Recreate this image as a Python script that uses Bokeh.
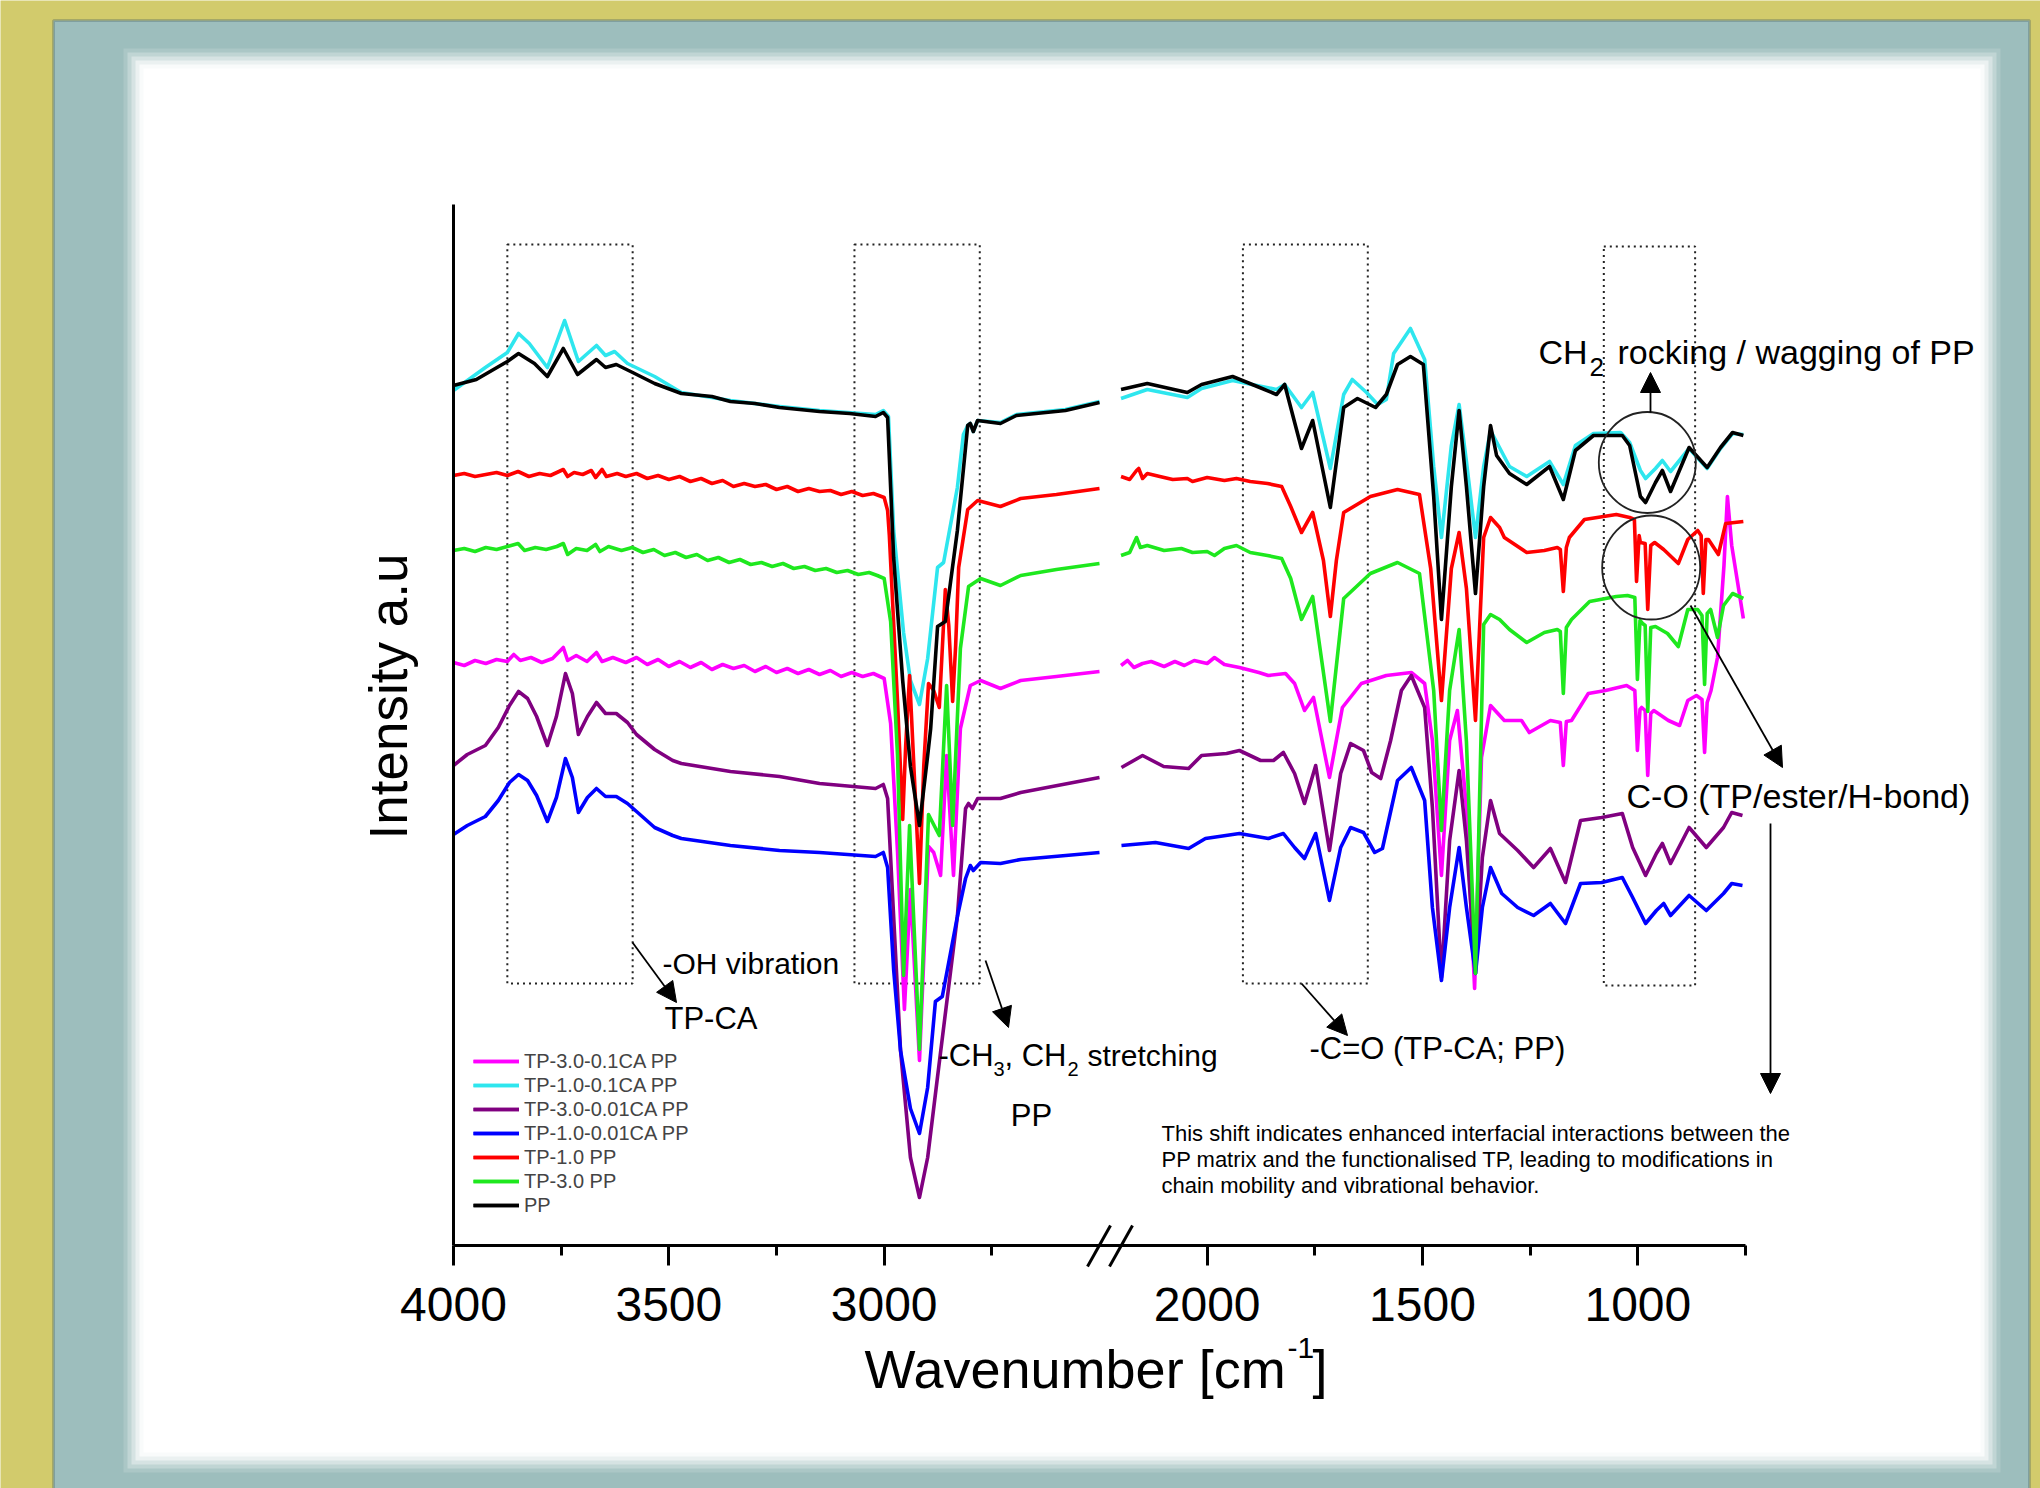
import numpy as np
from bokeh.plotting import figure
from bokeh.models import (Range1d, FixedTicker, Label, Arrow, NormalHead,
                          BoxAnnotation, Legend, LegendItem)
from bokeh.embed import file_html
from bokeh.resources import INLINE

FONT = "Liberation Sans"

# ---------------- axis definition (broken wavenumber axis) ----------------
BREAK_HI = 2500          # left panel: 4000 -> 2500
BREAK_LO = 2200          # right panel: 2200 -> 750
GAP = 50
TICK_LABELS = [4000, 3500, 3000, 2000, 1500, 1000]
MINOR_TICKS = [3750, 3250, 2750, 1750, 1250, 750]

# ---------------- data: (wavenumber cm-1, intensity a.u.) ----------------
PP_HIGH = [(4000, 86.0), (3947, 86.6), (3875, 88.4), (3849, 89.2), (3812, 88.2), (3782, 86.9),
           (3745, 89.7), (3712, 87.1), (3668, 88.6), (3647, 87.8), (3622, 88.1), (3584, 87.3),
           (3533, 86.2), (3471, 85.2), (3400, 84.9), (3357, 84.4), (3300, 84.2), (3243, 83.8),
           (3150, 83.4), (3080, 83.2), (3020, 82.9), (3002, 83.3), (2992, 82.8), (2985, 75.8),
           (2978, 68.8), (2957, 56.5), (2939, 47.9), (2918, 42.0), (2899, 49.0), (2892, 51.7),
           (2876, 61.9), (2858, 62.4), (2830, 71.5), (2806, 82.0), (2800, 82.2), (2793, 81.4),
           (2783, 82.5), (2730, 82.2), (2693, 83.0), (2579, 83.5), (2500, 84.3)]
PP_LOW = [(2200, 85.6), (2139, 86.2), (2046, 85.3), (2013, 86.1), (1941, 86.9), (1878, 85.8),
          (1839, 85.1), (1820, 86.1), (1781, 79.7), (1755, 82.5), (1714, 73.8), (1683, 83.8),
          (1651, 84.7), (1609, 83.8), (1584, 85.1), (1558, 88.1), (1528, 88.9), (1498, 88.1),
          (1474, 74.9), (1456, 62.6), (1433, 75.9), (1415, 83.5), (1398, 75.9), (1377, 65.2),
          (1358, 75.9), (1342, 82.0), (1328, 79.0), (1298, 77.2), (1258, 76.1), (1205, 77.9),
          (1173, 74.6), (1145, 79.5), (1103, 81.0), (1036, 81.0), (1019, 80.0), (994, 74.9),
          (982, 74.3), (959, 76.3), (943, 77.5), (924, 75.4), (881, 79.8), (839, 77.8),
          (808, 79.8), (780, 81.3), (755, 81.0)]

TP10_01CA_HIGH = [(4000, 85.5), (3926, 87.8), (3875, 89.3), (3849, 91.2), (3824, 90.2), (3782, 87.8),
                  (3742, 92.5), (3710, 88.4), (3668, 90.0), (3647, 89.0), (3626, 89.4), (3596, 88.2),
                  (3533, 86.9), (3471, 85.3), (3357, 84.5), (3243, 83.9), (3150, 83.5), (3020, 83.1),
                  (3002, 83.5), (2990, 82.9), (2978, 71.5), (2955, 61.3), (2939, 56.5), (2918, 54.1),
                  (2899, 58.7), (2876, 67.8), (2862, 68.3), (2830, 75.8), (2816, 81.1), (2806, 82.0),
                  (2800, 82.2), (2793, 81.4), (2783, 82.5), (2730, 82.3), (2693, 83.1), (2579, 83.6),
                  (2500, 84.4)]
TP10_01CA_LOW = [(2200, 84.7), (2139, 85.6), (2046, 84.8), (2013, 85.7), (1941, 86.5), (1839, 85.6),
                 (1820, 86.1), (1781, 83.8), (1755, 85.3), (1714, 77.7), (1683, 85.1), (1663, 86.6),
                 (1630, 85.3), (1604, 84.1), (1584, 84.6), (1567, 89.2), (1528, 91.7), (1495, 88.6),
                 (1474, 77.9), (1456, 70.8), (1433, 80.0), (1415, 84.1), (1398, 78.4), (1377, 70.8),
                 (1358, 77.9), (1342, 81.5), (1298, 77.9), (1258, 76.9), (1205, 78.4), (1173, 76.1),
                 (1145, 80.0), (1103, 81.2), (1040, 81.3), (1019, 80.3), (994, 77.5), (982, 76.7),
                 (959, 77.7), (943, 78.5), (924, 77.4), (881, 79.7), (839, 77.7), (808, 79.7),
                 (780, 81.2), (755, 81.1)]

TP10_HIGH = [(4000, 77.0), (3975, 77.2), (3950, 76.9), (3925, 77.1), (3900, 77.3), (3875, 77.0),
             (3850, 77.4), (3825, 76.9), (3800, 77.2), (3775, 77.0), (3745, 77.6), (3735, 76.9),
             (3720, 77.3), (3700, 77.1), (3680, 77.5), (3670, 76.8), (3655, 77.6), (3645, 76.9),
             (3620, 77.2), (3600, 76.9), (3575, 77.2), (3550, 76.7), (3525, 77.0), (3500, 76.6),
             (3475, 76.9), (3450, 76.4), (3425, 76.7), (3400, 76.2), (3375, 76.5), (3350, 75.9),
             (3325, 76.2), (3300, 75.9), (3275, 76.1), (3250, 75.6), (3225, 75.9), (3200, 75.4),
             (3175, 75.7), (3150, 75.4), (3125, 75.5), (3100, 75.1), (3075, 75.4), (3050, 75.0),
             (3025, 75.2), (3000, 74.8), (2992, 73.5), (2988, 71.0),
             (2969, 54.4), (2957, 42.6), (2950, 50.0), (2941, 57.0), (2930, 47.0), (2918, 36.2),
             (2908, 48.0), (2897, 56.2), (2885, 55.5), (2872, 53.8), (2858, 65.6), (2850, 62.0),
             (2841, 54.4), (2834, 60.0), (2827, 67.8), (2806, 73.6), (2783, 74.5), (2730, 73.9),
             (2683, 74.7), (2600, 75.1), (2500, 75.7)]
TP10_LOW = [(2200, 76.9), (2180, 76.6), (2164, 77.5), (2159, 77.7), (2150, 76.7), (2139, 77.2),
            (2110, 76.9), (2080, 76.6), (2046, 76.7), (2034, 76.4), (2000, 76.8), (1960, 76.5),
            (1932, 76.7), (1900, 76.4), (1860, 76.2), (1827, 75.9), (1806, 73.9), (1781, 71.3),
            (1755, 73.3), (1730, 68.5), (1714, 62.9), (1700, 68.5), (1683, 73.3), (1621, 74.9),
            (1558, 75.6), (1507, 75.1), (1481, 67.7), (1456, 54.5), (1433, 67.7), (1415, 71.3),
            (1398, 65.7), (1377, 52.5), (1358, 70.8), (1342, 72.8), (1321, 71.8), (1310, 70.8),
            (1258, 69.3), (1217, 69.5), (1187, 69.8), (1180, 69.6), (1173, 65.4), (1166, 69.8),
            (1159, 70.8), (1124, 72.6), (1050, 73.1), (1019, 72.8), (1008, 72.6), (1003, 66.4),
            (997, 71.0), (994, 70.3), (983, 70.2), (977, 63.6), (970, 70.0), (961, 70.3),
            (940, 69.6), (906, 68.2), (884, 70.6), (861, 71.5), (853, 71.0), (848, 65.2),
            (842, 70.6), (836, 70.6), (813, 69.1), (796, 72.2), (755, 72.4)]

TP30_HIGH = [(4000, 69.5), (3975, 69.7), (3950, 69.4), (3925, 69.8), (3900, 69.6), (3875, 69.9),
             (3850, 70.2), (3835, 69.5), (3810, 69.8), (3785, 69.6), (3760, 69.9), (3745, 70.2),
             (3735, 69.1), (3715, 69.7), (3690, 69.5), (3670, 70.1), (3660, 69.4), (3640, 69.9),
             (3610, 69.5), (3585, 69.8), (3560, 69.3), (3535, 69.6), (3510, 69.0), (3485, 69.3),
             (3460, 68.8), (3435, 69.1), (3410, 68.5), (3385, 68.8), (3360, 68.3), (3335, 68.6),
             (3310, 68.1), (3285, 68.3), (3260, 67.9), (3235, 68.2), (3210, 67.7), (3185, 67.9),
             (3160, 67.5), (3135, 67.7), (3110, 67.3), (3085, 67.5), (3060, 67.1), (3035, 67.3),
             (3016, 67.0), (3000, 66.7), (2985, 62.4), (2969, 49.0), (2955, 27.0),
             (2941, 42.0), (2918, 19.6), (2897, 43.1), (2872, 41.0), (2855, 56.0), (2841, 42.0),
             (2823, 59.7), (2804, 65.9), (2776, 66.7), (2730, 66.0), (2683, 67.0), (2600, 67.6),
             (2500, 68.2)]
TP30_LOW = [(2200, 69.0), (2180, 69.3), (2164, 70.8), (2155, 69.8), (2139, 70.0), (2100, 69.5),
            (2060, 69.7), (2034, 69.3), (2000, 69.4), (1983, 69.0), (1960, 69.7), (1932, 70.0),
            (1900, 69.3), (1860, 69.0), (1827, 68.7), (1806, 66.7), (1781, 62.6), (1755, 64.9),
            (1714, 52.4), (1683, 64.7), (1621, 67.2), (1558, 68.3), (1507, 67.2), (1474, 55.5),
            (1456, 41.5), (1437, 55.5), (1415, 61.6), (1398, 50.4), (1377, 27.2), (1358, 62.1),
            (1342, 63.1), (1321, 62.6), (1298, 61.6), (1258, 60.3), (1217, 61.3), (1187, 61.6),
            (1180, 61.4), (1173, 55.2), (1166, 61.8), (1154, 62.6), (1112, 64.4), (1050, 64.9),
            (1024, 65.0), (1007, 64.8), (1001, 56.6), (995, 62.5), (989, 62.2), (983, 62.0),
            (977, 53.4), (970, 61.8), (959, 61.9), (931, 61.2), (906, 59.9), (884, 63.6),
            (861, 63.6), (851, 63.0), (845, 56.1), (839, 63.2), (831, 63.6), (815, 60.8),
            (801, 64.0), (780, 65.2), (755, 64.7)]

TP30_01CA_HIGH = [(4000, 58.3), (3975, 58.0), (3950, 58.5), (3925, 58.2), (3900, 58.6), (3875, 58.4),
                  (3860, 59.1), (3845, 58.5), (3820, 58.8), (3795, 58.3), (3770, 58.7), (3745, 59.8),
                  (3735, 58.5), (3715, 59.0), (3690, 58.4), (3668, 59.3), (3655, 58.4), (3630, 58.8),
                  (3600, 58.3), (3575, 58.8), (3550, 58.1), (3525, 58.6), (3500, 57.9), (3475, 58.4),
                  (3450, 57.8), (3425, 58.3), (3400, 57.6), (3375, 58.1), (3350, 57.7), (3325, 58.0),
                  (3300, 57.4), (3275, 57.9), (3250, 57.3), (3225, 57.7), (3200, 57.2), (3175, 57.6),
                  (3150, 57.1), (3125, 57.5), (3100, 56.9), (3075, 57.3), (3050, 56.9), (3025, 57.2),
                  (3000, 56.7), (2985, 52.2), (2969, 39.4), (2953, 23.6), (2939, 35.6),
                  (2918, 18.5), (2897, 39.9), (2885, 39.3), (2869, 37.0), (2855, 49.0), (2839, 37.0),
                  (2823, 51.7), (2800, 56.0), (2776, 56.5), (2730, 55.7), (2683, 56.5), (2600, 56.9),
                  (2500, 57.4)]
TP30_01CA_LOW = [(2200, 58.0), (2185, 58.5), (2170, 57.8), (2150, 58.2), (2130, 58.4), (2100, 57.9),
                 (2075, 58.4), (2053, 58.0), (2030, 58.5), (2000, 58.2), (1983, 58.8), (1960, 58.1),
                 (1925, 57.8), (1880, 57.3), (1858, 57.0), (1818, 57.2), (1797, 56.2), (1774, 53.5),
                 (1753, 54.8), (1716, 46.8), (1686, 53.8), (1642, 56.2), (1584, 57.0), (1526, 57.3),
                 (1495, 56.2), (1477, 50.5), (1456, 37.0), (1437, 50.5), (1419, 53.5), (1398, 43.8),
                 (1379, 25.7), (1363, 48.8), (1342, 54.0), (1310, 52.5), (1270, 52.5), (1252, 51.3),
                 (1203, 52.5), (1180, 52.3), (1173, 48.0), (1166, 52.4), (1154, 52.5), (1115, 55.2),
                 (1075, 55.5), (1026, 56.0), (1007, 55.5), (1001, 49.5), (995, 53.6), (991, 53.8),
                 (983, 53.5), (977, 47.0), (970, 53.2), (963, 53.5), (929, 52.5), (903, 52.0),
                 (884, 54.5), (864, 55.0), (851, 54.6), (845, 49.3), (839, 54.3), (830, 55.5),
                 (815, 58.8), (800, 68.0), (792, 74.9), (782, 70.0), (755, 62.7)]

TP30_001CA_HIGH = [(4000, 48.0), (3968, 49.1), (3926, 50.0), (3896, 51.8), (3870, 54.0), (3849, 55.4),
                   (3828, 54.7), (3807, 52.9), (3782, 50.0), (3761, 52.9), (3740, 57.2), (3724, 55.2),
                   (3710, 51.1), (3689, 52.9), (3668, 54.3), (3647, 53.2), (3622, 53.2), (3596, 52.3),
                   (3575, 51.1), (3533, 49.6), (3491, 48.5), (3471, 48.2), (3357, 47.4), (3243, 46.9),
                   (3150, 46.2), (3020, 45.7),
                   (3002, 46.1), (2992, 44.7), (2978, 32.9), (2962, 19.5), (2939, 8.8), (2918, 4.8),
                   (2899, 8.8), (2876, 16.9), (2853, 24.9), (2830, 32.9), (2811, 43.7), (2804, 44.2),
                   (2795, 43.7), (2783, 44.7), (2730, 44.7), (2683, 45.3), (2500, 46.8)]
TP30_001CA_LOW = [(2199, 47.8), (2150, 49.0), (2101, 47.9), (2043, 47.7), (2013, 49.0), (1955, 49.2),
                  (1925, 49.5), (1876, 48.5), (1846, 48.5), (1823, 49.3), (1797, 47.2), (1774, 44.2),
                  (1748, 48.0), (1716, 39.5), (1690, 47.2), (1667, 50.2), (1637, 49.5), (1618, 47.3),
                  (1597, 46.7), (1574, 50.5), (1549, 55.5), (1526, 57.0), (1495, 53.8), (1477, 43.8),
                  (1456, 26.8), (1437, 40.5), (1415, 47.5), (1398, 40.5), (1377, 27.2), (1361, 38.8),
                  (1342, 44.5), (1321, 41.2), (1279, 39.5), (1242, 37.8), (1203, 39.7), (1168, 36.3),
                  (1133, 42.5), (1084, 42.8), (1036, 43.2), (1012, 39.8), (982, 37.0), (957, 39.2),
                  (943, 40.2), (924, 38.2), (881, 41.8), (841, 39.8), (801, 41.8), (782, 43.3),
                  (757, 43.0)]

TP10_001CA_HIGH = [(4000, 41.1), (3968, 42.0), (3926, 42.9), (3896, 44.5), (3870, 46.3), (3849, 47.1),
                   (3828, 46.5), (3807, 45.0), (3782, 42.4), (3761, 44.8), (3740, 48.7), (3724, 46.8),
                   (3710, 43.3), (3689, 44.8), (3668, 45.7), (3647, 44.9), (3622, 44.9), (3596, 44.2),
                   (3575, 43.4), (3533, 41.8), (3491, 41.0), (3471, 40.7), (3357, 40.0), (3243, 39.5),
                   (3150, 39.3), (3020, 38.9),
                   (3002, 39.3), (2992, 37.8), (2978, 27.6), (2962, 19.5), (2939, 13.7), (2918, 11.2),
                   (2899, 15.8), (2881, 24.4), (2865, 24.9), (2830, 32.9), (2811, 36.7), (2800, 38.0),
                   (2793, 37.5), (2776, 38.3), (2730, 38.2), (2683, 38.6), (2500, 39.3)]
TP10_001CA_LOW = [(2199, 40.0), (2120, 40.3), (2043, 39.7), (2004, 40.7), (1925, 41.2), (1858, 40.7),
                  (1823, 41.2), (1797, 39.8), (1774, 38.7), (1748, 41.2), (1716, 34.5), (1690, 39.8),
                  (1667, 41.8), (1637, 41.3), (1611, 39.3), (1593, 39.7), (1558, 46.5), (1526, 47.8),
                  (1495, 44.5), (1477, 33.8), (1456, 26.5), (1437, 33.8), (1415, 39.8), (1398, 33.8),
                  (1377, 27.2), (1361, 33.8), (1342, 37.8), (1316, 35.2), (1279, 33.8), (1242, 33.0),
                  (1203, 34.2), (1168, 32.2), (1133, 36.2), (1084, 36.3), (1036, 36.8), (1012, 34.8),
                  (982, 32.2), (957, 33.5), (940, 34.2), (924, 33.0), (881, 35.0), (841, 33.5),
                  (801, 35.2), (782, 36.2), (757, 36.0)]

SERIES = ["TP-3.0-0.1CA PP", "TP-1.0-0.1CA PP", "TP-3.0-0.01CA PP", "TP-1.0-0.01CA PP",
          "TP-1.0 PP", "TP-3.0 PP", "PP"]
COLORS = ["#ff00ff", "#2ee6ee", "#800080", "#0000ff", "#ff0000", "#1ee81e", "#000000"]
DATA = [(TP30_01CA_HIGH, TP30_01CA_LOW), (TP10_01CA_HIGH, TP10_01CA_LOW),
        (TP30_001CA_HIGH, TP30_001CA_LOW), (TP10_001CA_HIGH, TP10_001CA_LOW),
        (TP10_HIGH, TP10_LOW), (TP30_HIGH, TP30_LOW), (PP_HIGH, PP_LOW)]

# dotted band boxes (wavenumber span, intensity span)
BANDS = [(3875, 3584, 26.2, 100.1), (3069, 2778, 26.2, 100.1),
         (1917, 1627, 26.2, 100.1), (1079, 867, 26.0, 99.9)]
Y_TOP = 104.1


def xpos(w):
    w = np.asarray(w, dtype=float)
    return np.where(w >= (BREAK_HI + BREAK_LO) / 2, 4000.0 - w,
                    (4000.0 - BREAK_HI) + GAP + (BREAK_LO - w))


XMAX = float(xpos(750))
W, H = 2040, 1488
AX_L, AX_R, AX_T, AX_B = 453, 1745, 204, 1245      # plot area on the page (px)
PXU = (AX_R - AX_L) / XMAX                          # px per x unit
PYU = (AX_B - AX_T) / Y_TOP                         # px per y unit


# page pixel -> data coordinate (decorations only)
def sx(X):
    return (X - AX_L) / PXU


def sy(Y):
    return (AX_B - Y) / PYU


p = figure(width=W, height=H, x_range=Range1d(sx(0), sx(W)), y_range=Range1d(sy(H), sy(0)),
           output_backend="svg", toolbar_location=None, min_border=0,
           min_border_left=0, min_border_right=0, min_border_top=0, min_border_bottom=0)
p.border_fill_color = "#d2cb6c"
p.background_fill_color = "#d2cb6c"
p.outline_line_color = None
p.xgrid.visible = False
p.ygrid.visible = False

# backgrounds: teal panel with dark border, white card with soft edge
p.add_layout(BoxAnnotation(left=sx(53), right=sx(2029), top=sy(20), bottom=sy(1530),
                           fill_color="#9dbebd", fill_alpha=1.0, line_color="#3e5858",
                           line_width=3, level="underlay"))
for inset, a in [(-12, 0.15), (-8, 0.25), (-4, 0.35), (0, 0.5), (4, 0.7), (8, 1.0)]:
    p.add_layout(BoxAnnotation(left=sx(135 + inset), right=sx(1988 - inset),
                               top=sy(60 + inset), bottom=sy(1460 - inset),
                               fill_color="white", fill_alpha=a, line_color=None,
                               level="underlay"))

# axes (placed at the plot-area edges)
xa = p.xaxis[0]
xa.fixed_location = 0
xa.bounds = (0, XMAX)
xa.ticker = FixedTicker(ticks=[float(v) for v in xpos(TICK_LABELS)],
                        minor_ticks=[float(v) for v in xpos(MINOR_TICKS)])
xa.major_label_overrides = {float(xpos(t)): str(t) for t in TICK_LABELS}
xa.axis_line_width = 3
xa.major_tick_line_width = 3
xa.minor_tick_line_width = 3
xa.major_tick_out = 20
xa.major_tick_in = 0
xa.minor_tick_out = 10
xa.minor_tick_in = 0
xa.major_label_standoff = 22
xa.major_label_text_font = FONT
xa.major_label_text_font_size = "48px"
xa.major_label_text_color = "black"

ya = p.yaxis[0]
ya.fixed_location = 0
ya.bounds = (0, Y_TOP)
ya.ticker = FixedTicker(ticks=[])
ya.axis_line_width = 3
ya.major_tick_line_color = None
ya.minor_tick_line_color = None
ya.major_label_text_font_size = "0px"

# dotted band boxes
for hi, lo, b, t in BANDS:
    p.quad(left=float(xpos(hi)), right=float(xpos(lo)), bottom=b, top=t,
           fill_alpha=0, line_color="#222222", line_width=2, line_dash="2 4")

# spectra
items = []
for name, color, (hi, lo) in zip(SERIES, COLORS, DATA):
    rs = []
    for seg in (hi, lo):
        w = [a for a, _ in seg]
        v = [b for _, b in seg]
        rs.append(p.line(xpos(w), v, line_color=color, line_width=3.6, line_join="round"))
    items.append(LegendItem(label=name, renderers=rs))

legend = Legend(items=items, location=(473, H - 1217), orientation="vertical",
                label_text_font=FONT, label_text_font_size="20px",
                glyph_width=46, glyph_height=24, label_height=24, label_standoff=5,
                spacing=0, padding=0, margin=0, border_line_color=None,
                background_fill_alpha=0)
p.add_layout(legend)

# break marks on x axis
for dx in (0, 22):
    p.add_layout(Arrow(x_start=sx(1087 + dx), y_start=sy(1266), x_end=sx(1110 + dx),
                       y_end=sy(1225), end=None, line_color="black", line_width=3))

# circles
p.ellipse(x=float(xpos(978)), y=78.3, width=97 / PXU, height=101 / PYU, fill_alpha=0,
          line_color="#222222", line_width=1.8)
p.ellipse(x=float(xpos(969)), y=67.8, width=98 / PXU, height=104 / PYU, fill_alpha=0,
          line_color="#222222", line_width=1.8)


def lab(text, X, Y, size, align="left", angle=0.0):
    p.add_layout(Label(x=sx(X), y=sy(Y), text=text, text_font=FONT,
                       text_font_size=f"{size}px", text_color="black",
                       text_align=align, text_baseline="middle", angle=angle))


lab("-OH vibration", 662, 963, 30)
lab("TP-CA", 664, 1018, 31)
lab("-CH", 938, 1055, 31)
lab("3", 993, 1068, 20)
lab(", CH", 1004, 1055, 31)
lab("2", 1067, 1068, 20)
lab("stretching", 1087, 1055, 30)
lab("PP", 1031, 1115, 31, align="center")
lab("-C=O (TP-CA; PP)", 1309, 1048, 31)
lab("CH", 1538, 351, 34)
lab("2", 1589, 366, 26)
lab("rocking / wagging of PP", 1617, 351, 34)
lab("C-O (TP/ester/H-bond)", 1626, 795, 34)
lab("This shift indicates enhanced interfacial interactions between the", 1161, 1133, 22)
lab("PP matrix and the functionalised TP, leading to modifications in", 1161, 1159, 22)
lab("chain mobility and vibrational behavior.", 1161, 1185, 22)
lab("Intensity a.u", 388, 696, 53, align="center", angle=np.pi / 2)
lab("Wavenumber [cm", 864, 1368, 54)
lab("-1", 1287, 1347, 30)
lab("]", 1312, 1368, 54)

# arrows
arrows = [((632, 942), (676, 1002)), ((985, 960), (1008, 1027)), ((1301, 983), (1347, 1035)),
          ((1650, 412), (1650, 372)), ((1690, 605), (1782, 767)), ((1770, 823), (1770, 1093))]
for (xs, ys), (xe, ye) in arrows:
    p.add_layout(Arrow(x_start=sx(xs), y_start=sy(ys), x_end=sx(xe), y_end=sy(ye),
                       line_color="black", line_width=1.8,
                       end=NormalHead(size=20, fill_color="black", line_color="black")))

open("out.html", "w").write(file_html(p, INLINE))
